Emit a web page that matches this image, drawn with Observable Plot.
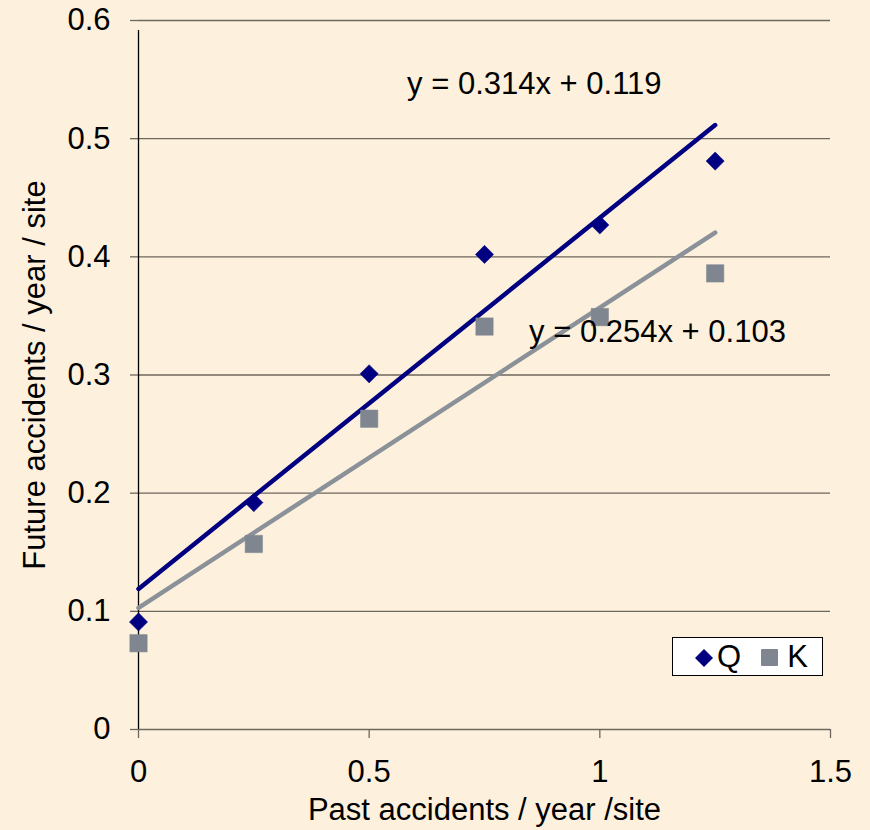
<!DOCTYPE html>
<html>
<head>
<meta charset="utf-8">
<script src="https://cdn.jsdelivr.net/npm/d3@7"></script>
<script src="https://cdn.jsdelivr.net/npm/@observablehq/plot@0.6"></script>
<style>
  html, body { margin: 0; padding: 0; background: #FDF0DC; }
  #wrap { position: relative; width: 870px; height: 830px; font-family: "Liberation Sans", Arial, sans-serif; }
  #legend { position: absolute; left: 672px; top: 637px; width: 149px; height: 37px; background: #fff; border: 1px solid #000;
            display: flex; align-items: center; font-size: 31px; color: #000; }
  #legend svg { display: block; }
</style>
</head>
<body>
<div id="wrap"></div>
<script>
// Data
const pastX = [0, 0.25, 0.5, 0.75, 1, 1.25];
const seriesQ = [0.091, 0.192, 0.301, 0.402, 0.427, 0.481];
const seriesK = [0.073, 0.157, 0.263, 0.341, 0.349, 0.386];
const trendQ = {slope: 0.314, intercept: 0.119, label: "y = 0.314x + 0.119", lx: 0.858, ly: 0.5465};
const trendK = {slope: 0.254, intercept: 0.103, label: "y = 0.254x + 0.103", lx: 1.125, ly: 0.336};
const xTicks = [0, 0.5, 1, 1.5];
const yTicks = [0, 0.1, 0.2, 0.3, 0.4, 0.5, 0.6];

const navy = "#000080";
const greyLine = "#8B9198";
const greySq = "#7F8690";
const gridC = "#6E675D";
const font = "Liberation Sans, Arial, sans-serif";

const ptsQ = pastX.map((x, i) => ({x, y: seriesQ[i]}));
const ptsK = pastX.map((x, i) => ({x, y: seriesK[i]}));
const xEnds = [pastX[0], pastX[pastX.length - 1]];
const lineQ = xEnds.map(x => ({x, y: trendQ.slope * x + trendQ.intercept}));
const lineK = xEnds.map(x => ({x, y: trendK.slope * x + trendK.intercept}));

const chart = Plot.plot({
  width: 870,
  height: 830,
  marginLeft: 138,
  marginRight: 40,
  marginTop: 20,
  marginBottom: 101,
  style: {background: "#FDF0DC", fontFamily: font, fontSize: "31px", color: "#000"},
  x: {domain: [0, 1.5]},
  y: {domain: [0, 0.6]},
  marks: [
    Plot.ruleY(yTicks, {stroke: gridC, strokeWidth: 1.3}),
    Plot.axisY({ticks: yTicks, tickFormat: d3.format("~g"), tickSize: 8, tickPadding: 20, stroke: gridC, fill: "#000", fontSize: 31, label: null, strokeWidth: 1.3}),
    Plot.axisX({ticks: xTicks, tickFormat: d3.format("~g"), tickSize: 9, tickPadding: 21, stroke: gridC, fill: "#000", fontSize: 31, label: null, strokeWidth: 1.3}),
    Plot.ruleX([0], {y1: 0, y2: 0.6, stroke: "#000", strokeWidth: 1.3, insetBottom: -10}),
    Plot.line(lineK, {x: "x", y: "y", stroke: greyLine, strokeWidth: 4.5, strokeLinecap: "round"}),
    Plot.line(lineQ, {x: "x", y: "y", stroke: navy, strokeWidth: 4.5, strokeLinecap: "round"}),
    Plot.dot(ptsQ, {x: "x", y: "y", symbol: "diamond2", r: 8.2, fill: navy, stroke: navy, strokeWidth: 0.5}),
    Plot.dot(ptsK, {x: "x", y: "y", symbol: "square", r: 9.8, fill: greySq, stroke: greySq, strokeWidth: 0.5}),
    Plot.text([trendQ, trendK], {x: "lx", y: "ly", text: "label", fontSize: 31, fill: "#000", textAnchor: "middle", lineAnchor: "middle"}),
    Plot.text(["Past accidents / year /site"], {frameAnchor: "bottom", dy: 81, fontSize: 31, fill: "#000", lineAnchor: "middle"}),
    Plot.text(["Future accidents / year / site"], {frameAnchor: "left", dx: -103, rotate: -90, fontSize: 31, fill: "#000", lineAnchor: "middle", textAnchor: "middle"})
  ]
});

const wrap = document.getElementById("wrap");
wrap.appendChild(chart);

// Legend
const legend = document.createElement("div");
legend.id = "legend";
legend.innerHTML =
  '<svg width="44" height="37" viewBox="0 0 44 37"><path d="M31,11 L40,20 L31,29 L22,20 Z" fill="' + navy + '"/></svg>' +
  '<span style="line-height:37px">Q</span>' +
  '<svg width="46" height="37" viewBox="0 0 46 37"><rect x="20" y="11" width="17" height="17" rx="1" fill="' + greySq + '"/></svg>' +
  '<span style="line-height:37px">K</span>';
wrap.appendChild(legend);
</script>
</body>
</html>
